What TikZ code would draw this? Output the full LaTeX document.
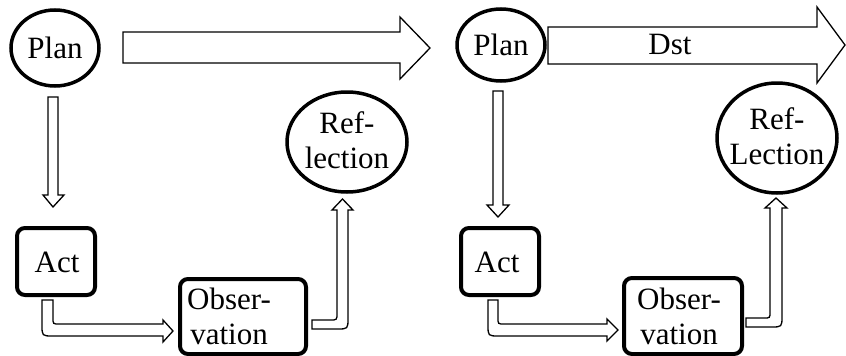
\documentclass[tikz,border=0pt]{standalone}
\usepackage{fontspec}
\setmainfont{Liberation Serif}
\newfontfamily\tnr{Liberation Serif}
\usetikzlibrary{shapes.geometric}
\begin{document}
\begin{tikzpicture}[x=1pt,y=-1pt,
  txt/.style={font=\tnr\fontsize{31}{35}\selectfont, inner sep=0pt, align=center},
  ell/.style={draw, ellipse, line width=3.5pt, inner sep=0pt},
  box/.style={draw, rectangle, rounded corners=8pt, line width=4pt, inner sep=0pt},
  blk/.style={draw, line width=1.3pt, fill=white, line join=miter}]
\useasboundingbox (0,0) rectangle (846,356);
% ---- left panel ----
\node[ell, minimum width=88pt, minimum height=76pt] (planA) at (55,48) {};
\node[txt] (planAt) at (55,48) {Plan};
\node[ell, minimum width=120pt, minimum height=100pt] (refA) at (347,142) {};
\node[txt] (refAt) at (347,140) {Ref-\\lection};
\node[box, minimum width=78pt, minimum height=67pt] (actA) at (56,261.5) {};
\node[txt] (actAt) at (57,262) {Act};
\node[box, minimum width=126pt, minimum height=75pt] (obsA) at (243,316.5) {};
\node[txt] (obsAt) at (229,316) {Obser-\\vation};
\draw[blk] (123,32) -- (400,32) -- (400,17) -- (430,48) -- (400,79) -- (400,63) -- (123,63) -- cycle;
\draw[blk] (48,97) -- (58,97) -- (58,195) -- (64,195) -- (53,207) -- (43,195) -- (48,195) -- cycle;
\draw[blk] (42,300) -- (53,300) -- (53,318) .. controls (53,324) .. (59,324) -- (163,324) -- (163,320) -- (173,331) -- (163,342) -- (163,336) -- (53,336) .. controls (42,336) .. (42,325) -- cycle;
\draw[blk] (312,320) -- (330,320) .. controls (337,320) .. (337,313) -- (337,210) -- (332,210) -- (342.5,199) -- (353,210) -- (348,210) -- (348,318) .. controls (348,329) .. (337,329) -- (312,329) -- cycle;
% ---- right panel ----
\node[ell, minimum width=88pt, minimum height=72pt] (planB) at (501,45) {};
\node[txt] (planBt) at (501,45) {Plan};
\node[ell, minimum width=120pt, minimum height=110pt] (refB) at (777,138) {};
\node[txt] (refBt) at (777,136) {Ref-\\Lection};
\node[box, minimum width=78pt, minimum height=67pt] (actB) at (500,261.5) {};
\node[txt] (actBt) at (497,262) {Act};
\node[box, minimum width=118pt, minimum height=76pt] (obsB) at (683,316) {};
\node[txt] (obsBt) at (679,316) {Obser-\\vation};
\draw[blk] (548,27) -- (817,27) -- (817,7) -- (845,45) -- (817,83) -- (817,64) -- (548,64) -- cycle;
\node[txt] (dst) at (670,45) {Dst};
\draw[blk] (493,91) -- (503,91) -- (503,205) -- (509,205) -- (498,217) -- (487,205) -- (493,205) -- cycle;
\draw[blk] (488,300) -- (498,300) -- (498,318) .. controls (498,324) .. (504,324) -- (607,324) -- (607,319) -- (618,330) -- (607,341) -- (607,336) -- (499,336) .. controls (488,336) .. (488,325) -- cycle;
\draw[blk] (746,318) -- (764,318) .. controls (770,318) .. (770,312) -- (770,208) -- (765,208) -- (776,198) -- (787,208) -- (782,208) -- (782,316) .. controls (782,327) .. (771,327) -- (746,327) -- cycle;
\end{tikzpicture}
\end{document}
